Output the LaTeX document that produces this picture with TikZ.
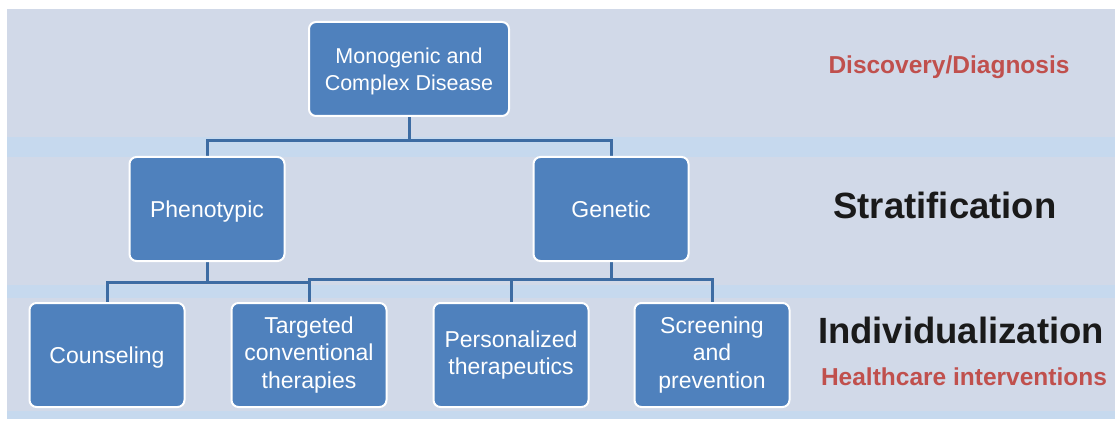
\documentclass[tikz,border=0pt]{standalone}
\usepackage{fontspec}
\setmainfont{Liberation Sans}
\usepackage{tikz}
\usetikzlibrary{backgrounds}

\definecolor{panelbg}{HTML}{D1D9E8}
\definecolor{bandbg}{HTML}{C6D9EE}
\definecolor{boxblue}{HTML}{4F81BD}
\definecolor{linkblue}{HTML}{3D6CA3}
\definecolor{labelred}{HTML}{C0504D}
\definecolor{labelblack}{HTML}{1A1A1A}

\begin{document}
\begin{tikzpicture}[x=1pt, y=-1pt,
    box/.style={draw=white, line width=2pt, fill=boxblue, rounded corners=7pt,
        text=white, align=center, minimum width=155pt, minimum height=104pt,
        inner sep=2pt, font=\fontsize{23}{27.5}\selectfont},
    link/.style={draw=linkblue, line width=3pt},
    tier/.style={font=\fontsize{36.5}{40}\selectfont\bfseries, text=labelblack},
    note/.style={font=\fontsize{24.5}{28}\selectfont\bfseries, text=labelred}]
    \useasboundingbox (0,0) rectangle (1115,422);
    % boxes
    \node[box, minimum width=200pt, minimum height=94pt, text depth=0pt,
        font=\fontsize{21.5}{27}\selectfont] (disease) at (409,69) {Monogenic and\\Complex Disease};
    \node[box, text depth=0pt] (pheno) at (207,209) {Phenotypic};
    \node[box] (gene) at (611,209) {Genetic};
    \node[box, text depth=0pt] (couns) at (107,355) {Counseling};
    \node[box] (target) at (309,355) {Targeted\\conventional\\therapies};
    \node[box] (person) at (511,355) {Personalized\\therapeutics};
    \node[box] (screen) at (712,355) {Screening\\and\\prevention};
    % labels on the right
    \node[note] (discov) at (949,67) {Discovery/Diagnosis};
    \node[tier] (strat) at (945,205) {Stratification};
    \node[tier] (indiv) at (961,330) {Individualization};
    \node[note] (health) at (964,377) {Healthcare interventions};
    % junction points
    \coordinate (j1) at (409,141);
    \coordinate (j2) at (207,282);
    \coordinate (j3) at (611,279);
    \begin{scope}[on background layer]
        % frame and background bands
        \fill[white] (0,0) rectangle (1115,422);
        \fill[panelbg] (7,9) rectangle (1115,419);
        \fill[bandbg] (7,137) rectangle (1115,157);
        \fill[bandbg] (7,285) rectangle (1115,298);
        \fill[bandbg] (7,411) rectangle (1115,419);
        % connectors
        \draw[link] (disease.south) -- (j1);
        \draw[link] (j1) -| (pheno.north);
        \draw[link] (j1) -| (gene.north);
        \draw[link] (pheno.south) -- (j2);
        \draw[link] (j2) -| (couns.north);
        \draw[link] (j2) -| (target.north);
        \draw[link] (gene.south) -- (j3);
        \draw[link] (j3) -| (target.north);
        \draw[link] (j3) -| (person.north);
        \draw[link] (j3) -| (screen.north);
    \end{scope}
\end{tikzpicture}
\end{document}
